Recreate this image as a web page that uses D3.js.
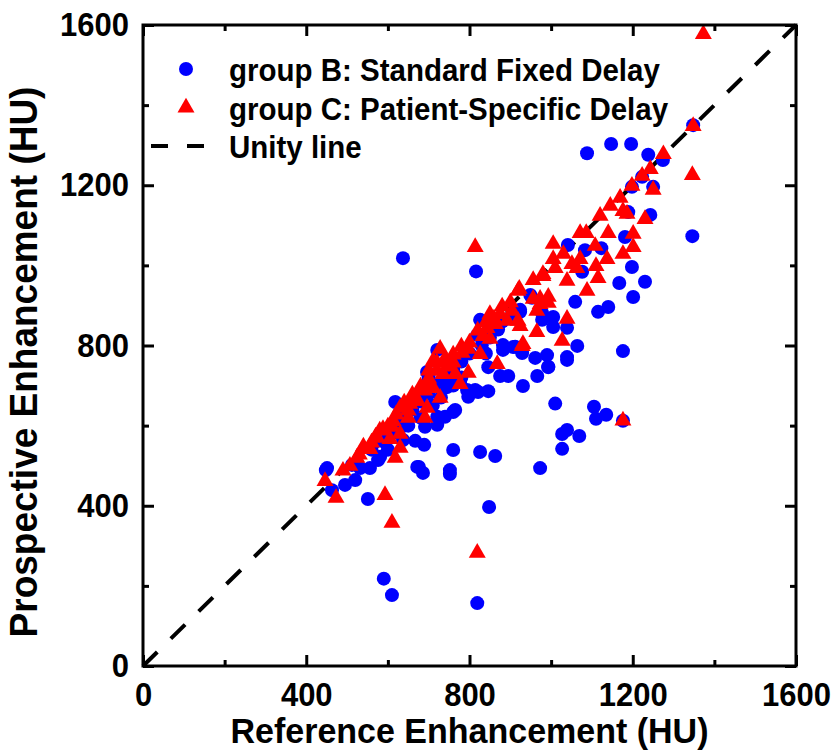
<!DOCTYPE html>
<html>
<head>
<meta charset="utf-8">
<script src="https://cdn.jsdelivr.net/npm/d3@7"></script>
<style>
  body { margin: 0; background: #fff; }
  text { font-family: "Liberation Sans", Arial, sans-serif; font-weight: bold; }
</style>
</head>
<body>
<svg id="chart" width="836" height="751"></svg>
<script>
// group B: standard fixed delay  [reference HU, prospective HU]
const groupB = [
  [637,1018],[816,985],[590,218],[610,177],[819,157],[848,397],[863,524],[826,534],[973,494],[1010,655],
  [1105,647],[1135,627],[1110,617],[1176,612],[1039,589],[1027,579],[1069,574],[1027,542],
  [760,539],[676,497],[686,482],[752,479],[667,562],[689,552],[931,699],[966,724],[993,746],[1039,764],
  [875,724],[895,724],[740,622],[760,634],[721,602],[691,597],[797,672],[821,684],[846,686],[777,709],
  [1088,1280],[1147,1303],[1196,1303],[1238,1276],[1274,1263],[1348,1350],[1346,1073],[1223,1221],
  [1198,1196],[1250,1196],[1189,1133],[1243,1126],[1181,1071],[1041,1051],[1083,1038],[1123,1043],
  [1198,996],[1076,984],[1167,956],[1230,959],[1201,921],[1059,909],[953,919],[1115,884],[1140,896],
  [1039,844],[1064,799],[1176,786],[990,776],[961,769],[1039,771],[882,789],[912,797],[993,747],
  [924,884],[978,881],[1005,871],[1005,846],
  [949,926],[924,889],[978,864],[826,864],[819,826],[907,796],[882,801],[929,781],[846,746],
  [721,789],[696,734],[745,696],[794,689],[814,689],[721,622],[765,639],[618,659],[637,564],
  [581,522],[556,494],[512,502],[451,494],[672,497],[752,489],
  [448,489],[463,439],[495,452],[520,464],[551,417],[532,494],[576,514],
  [600,590],[620,610],[640,630],[660,640],[680,660],[700,680],[720,700],[740,720],[760,740],
  [780,760],[800,780],[700,720],[650,600],[610,580],[570,560],[560,540],[590,560],[680,620],
  [710,650],[730,670],[760,700],[780,720],[830,800],[850,820],[870,840],[840,780],[880,860],
  [900,870],[600,540],[640,600]
];

// group C: patient-specific delay
const groupC = [
  [1373,1580],[1348,1350],[1346,1228],[1275,1280],[1243,1243],[1223,1226],[1198,1201],[1250,1191],
  [1169,1171],[1145,1151],[1176,1138],[1186,1131],[1230,1118],[1120,1126],[1140,1083],[1071,1083],
  [1086,1083],[1201,1081],[1005,1056],[1108,1051],[1030,1031],[1005,1018],[1137,1018],[1176,1031],
  [1201,1048],[1110,1001],[1071,1018],[1051,1006],[1063,996],[980,981],[956,966],[1010,996],
  [1039,964],[1115,971],[1088,939],[922,944],[956,919],[993,924],[973,906],[993,909],[1039,869],
  [965,836],[1027,814],[931,806],[875,881],[919,864],[892,864],[904,889],
  [814,1048],[919,939],[980,976],[973,919],[965,889],[924,851],[929,801],[850,881],[843,846],
  [863,856],[833,826],[850,819],[797,794],[782,784],[826,781],[868,756],[797,734],[777,706],
  [728,794],[711,764],[745,759],[735,731],[765,731],[696,706],[679,694],[711,696],[728,672],
  [672,664],[696,647],[691,622],[630,647],[654,657],[650,622],[613,614],[588,594],[630,582],
  [605,569],[574,572],[556,544],[524,522],[507,502],[630,547],[618,522],
  [1176,615],[819,285],[446,464],[473,422],[593,429],[610,360],
  [700,740],[720,760],[740,770],[760,780],[750,750],[680,700],[660,680],[640,660],[620,630],
  [600,600],[580,590],[560,560],[540,550],[700,720],[720,740],[780,800],[800,810],[820,840],
  [840,860],[860,870],[880,900],[900,910],[760,760],[690,690],[670,670],[650,640],[570,575],
  [610,600],[490,490],[530,530]
];

const unity = [[0, 0], [1600, 1600]];
const majorTicks = [0, 400, 800, 1200, 1600];
const minorTicks = [200, 600, 1000, 1400];
const legendItems = [
  {label: "group B: Standard Fixed Delay", kind: "circle"},
  {label: "group C: Patient-Specific Delay", kind: "triangle"},
  {label: "Unity line", kind: "line"}
];

const LEFT = 143, RIGHT = 796, TOP = 25, BOTTOM = 666;
const BLUE = "#0000ff", RED = "#ff0000";
const STRETCH = 1.07; // source font is a little taller than Liberation Sans

const svg = d3.select("#chart");

const x = d3.scaleLinear().domain([0, 1600]).range([LEFT, RIGHT]);
const y = d3.scaleLinear().domain([0, 1600]).range([BOTTOM, TOP]);

const plotW = RIGHT - LEFT, plotH = BOTTOM - TOP;

// squeeze text back to its normal width after enlarging the font
function condense(sel, k) {
    sel.each(function () {
        const w = this.getComputedTextLength();
        d3.select(this)
            .attr("textLength", w / k)
            .attr("lengthAdjust", "spacingAndGlyphs");
    });
}

// tick marks, pointing inward on all four sides
function ticks(axisFn, values, len, transform) {
    const g = svg.append("g")
        .attr("transform", transform)
        .call(axisFn.tickValues(values).tickSize(-len).tickFormat(""));
    g.select(".domain").remove();
    g.selectAll("line").attr("stroke", "#000").attr("stroke-width", 3);
}
ticks(d3.axisBottom(x), majorTicks, 11, `translate(0,${BOTTOM})`);
ticks(d3.axisBottom(x), minorTicks, 6, `translate(0,${BOTTOM})`);
ticks(d3.axisTop(x), majorTicks, 11, `translate(0,${TOP})`);
ticks(d3.axisTop(x), minorTicks, 6, `translate(0,${TOP})`);
ticks(d3.axisLeft(y), majorTicks, 11, `translate(${LEFT},0)`);
ticks(d3.axisLeft(y), minorTicks, 6, `translate(${LEFT},0)`);
ticks(d3.axisRight(y), majorTicks, 11, `translate(${RIGHT},0)`);
ticks(d3.axisRight(y), minorTicks, 6, `translate(${RIGHT},0)`);

// tick labels
const fmt = d3.format("d");
const xl = svg.append("g")
    .attr("transform", `translate(0,${BOTTOM})`)
    .call(d3.axisBottom(x).tickValues(majorTicks).tickFormat(fmt).tickSize(0).tickPadding(16));
xl.select(".domain").remove();
xl.selectAll("text").style("font-size", (31 * STRETCH) + "px").style("font-family", null).attr("fill", "#000")
    .call(condense, STRETCH);

const yl = svg.append("g")
    .attr("transform", `translate(${LEFT},0)`)
    .call(d3.axisLeft(y).tickValues(majorTicks).tickFormat(fmt).tickSize(0).tickPadding(14));
yl.select(".domain").remove();
yl.selectAll("text").style("font-size", (31 * STRETCH) + "px").style("font-family", null).attr("fill", "#000")
    .call(condense, STRETCH);

// unity line
svg.append("path")
    .datum(unity)
    .attr("d", d3.line().x(d => x(d[0])).y(d => y(d[1])))
    .attr("stroke", "#000")
    .attr("stroke-width", 4)
    .attr("stroke-dasharray", "20,19")
    .attr("fill", "none");

// group B circles
svg.append("g").selectAll("circle")
    .data(groupB)
    .join("circle")
    .attr("cx", d => x(d[0]))
    .attr("cy", d => y(d[1]))
    .attr("r", 7)
    .attr("fill", BLUE);

// group C triangles
const tri = d3.symbol().type(d3.symbolTriangle).size(125);
svg.append("g").selectAll("path")
    .data(groupC)
    .join("path")
    .attr("d", tri)
    .attr("transform", d => `translate(${x(d[0])},${y(d[1]) + 1})`)
    .attr("fill", RED);

// frame
svg.append("rect")
    .attr("x", LEFT).attr("y", TOP)
    .attr("width", plotW).attr("height", plotH)
    .attr("fill", "none")
    .attr("stroke", "#000")
    .attr("stroke-width", 3);

// legend
const legend = svg.append("g");
legendItems.forEach(function (d, i) {
    const cy = 69 + i * 38.5;
    if (d.kind === "circle") {
        legend.append("circle").attr("cx", 186).attr("cy", cy).attr("r", 7).attr("fill", BLUE);
    } else if (d.kind === "triangle") {
        legend.append("path").attr("d", tri).attr("transform", `translate(186,${cy})`).attr("fill", RED);
    } else {
        legend.append("line")
            .attr("x1", 151).attr("x2", 204)
            .attr("y1", cy).attr("y2", cy)
            .attr("stroke", "#000").attr("stroke-width", 4)
            .attr("stroke-dasharray", "17,19");
    }
    legend.append("text")
        .attr("x", 229)
        .attr("y", cy + 12)
        .style("font-size", (29.5 * STRETCH) + "px")
        .text(d.label)
        .call(condense, STRETCH);
});

// axis titles
svg.append("text")
    .attr("x", (LEFT + RIGHT) / 2)
    .attr("y", 743)
    .attr("text-anchor", "middle")
    .style("font-size", (34 * 1.04) + "px")
    .text("Reference Enhancement (HU)")
    .call(condense, 1.04);

svg.append("text")
    .attr("transform", "rotate(-90)")
    .attr("x", -362)
    .attr("y", 37)
    .attr("text-anchor", "middle")
    .style("font-size", (37 * 1.04) + "px")
    .text("Prospective Enhancement (HU)")
    .call(condense, 1.04);
</script>
</body>
</html>
